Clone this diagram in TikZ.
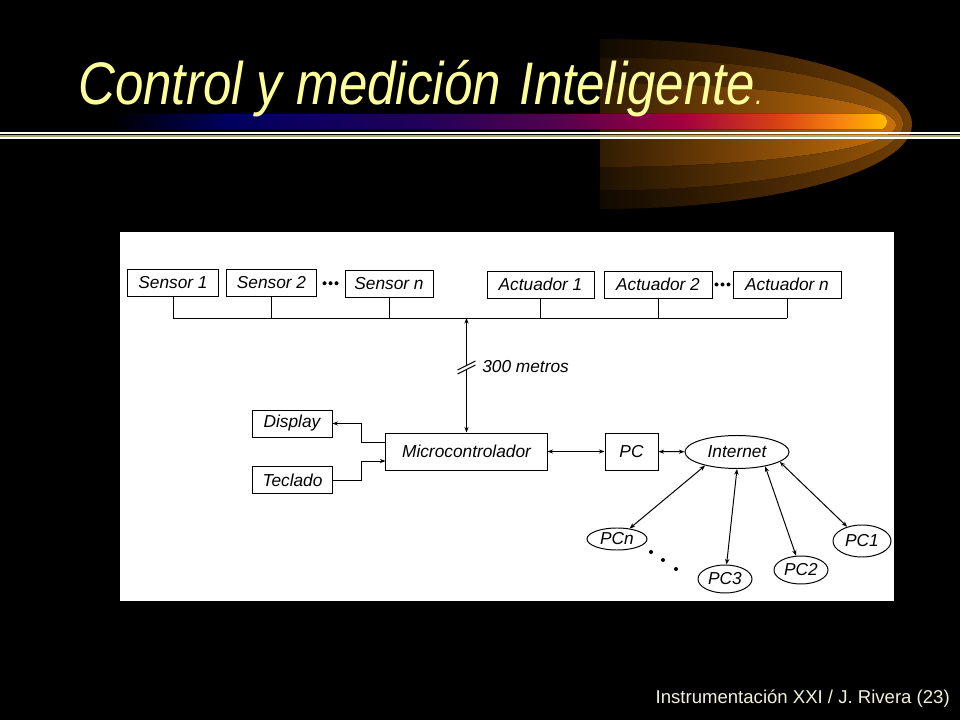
\documentclass[tikz,border=0pt]{standalone}
\usepackage{fontspec}
\usepackage{xcolor}
\usepackage{tikz}
\usetikzlibrary{arrows.meta,positioning,shapes.geometric,calc}
\newfontfamily\diafont{Liberation Sans}
\newfontfamily\titlefont{Liberation Sans}[FakeStretch=0.85]
\definecolor{titleyellow}{HTML}{FFFF99}
\definecolor{footcream}{HTML}{F2F2DC}
\definecolor{linekhaki}{HTML}{A8A878}
\definecolor{glowout}{HTML}{703E06}
\definecolor{glowmid}{HTML}{985608}
\definecolor{glowin}{HTML}{C8700C}
\definecolor{barnavy}{HTML}{00005E}
\definecolor{barindigo}{HTML}{22005C}
\definecolor{barpurple}{HTML}{55004E}
\definecolor{barmagenta}{HTML}{A00040}
\definecolor{barred}{HTML}{D84412}
\definecolor{barorange}{HTML}{F88010}
\definecolor{baryellow}{HTML}{FFBA00}
\pgfdeclarehorizontalshading{titlebar}{100bp}{color(0bp)=(black); color(25bp)=(black); color(28bp)=(black); color(35bp)=(barnavy); color(47bp)=(barindigo); color(55bp)=(barpurple); color(62.5bp)=(barmagenta); color(68.5bp)=(barred); color(72bp)=(barorange); color(75bp)=(baryellow); color(100bp)=(baryellow)}

\begin{document}
\begin{tikzpicture}[
  x=0.025cm, y=-0.025cm,
  block/.style={rectangle, draw, line width=0.7pt, fill=white, minimum height=0.675cm, inner sep=1pt, font=\diafont\itshape\fontsize{12.3}{14}\selectfont},
  oval/.style={ellipse, draw, line width=0.7pt, fill=white, inner sep=0pt, font=\diafont\itshape\fontsize{12.3}{14}\selectfont},
  lbl/.style={inner sep=0pt, font=\diafont\itshape\fontsize{12.3}{14}\selectfont},
  wire/.style={line width=0.7pt},
  arrow/.style={wire, -{Stealth[length=4pt,width=3pt]}},
  biarrow/.style={wire, {Stealth[length=4pt,width=3pt]}-{Stealth[length=4pt,width=3pt]}}
]
\fill[black] (0,0) rectangle (960,720);
\useasboundingbox (0,0) rectangle (960,720);

% glow and title bar
\fill[left color=glowout!15!black, right color=glowout] (600,39) arc[start angle=-90, end angle=90, x radius=312, y radius=85] -- cycle;
\fill[left color=glowmid!20!black, right color=glowmid] (600,57.5) arc[start angle=-90, end angle=90, x radius=303, y radius=66.5] -- cycle;
\fill[left color=glowin!25!black, right color=glowin] (600,83) arc[start angle=-90, end angle=90, x radius=296, y radius=42] -- cycle;
\fill[shading=titlebar, rounded corners=0.18cm] (60,114) rectangle (887,129.5);
\draw[white, line width=0.05cm] (0,133.2) -- (960,133.2);
\draw[linekhaki, line width=0.04cm] (0,135.8) -- (960,135.8);
\draw[white, line width=0.05cm] (0,138.3) -- (960,138.3);

\node[anchor=base west, text=titleyellow, inner sep=0pt, font=\titlefont\itshape\fontsize{42.7}{44}\selectfont] (title) at (78,105) {Control y medición\hspace{0.12cm} Inteligente{\fontsize{22}{22}\selectfont.}};
\node[anchor=base east, text=footcream, inner sep=0pt, font=\diafont\fontsize{13.2}{15}\selectfont] (foot) at (950,703) {Instrumentación XXI / J. Rivera (23)};

\fill[white] (120,232) rectangle (894,601);

\node[block, minimum width=2.25cm] (sens1) at (173,282.5) {Sensor 1};
\node[block, minimum width=2.225cm] (sens2) at (271.5,282.5) {Sensor 2};
\node[block, minimum width=2.2cm] (sensn) at (389,284) {Sensor n};
\node[block, minimum width=2.675cm] (act1) at (540.5,284.5) {Actuador 1};
\node[block, minimum width=2.7cm] (act2) at (658,284.5) {Actuador 2};
\node[block, minimum width=2.7cm] (actn) at (787,284.5) {Actuador n};
\node[block, minimum width=2cm] (disp) at (292,423.5) {Display};
\node[block, minimum width=2cm] (tec) at (292.5,480) {Teclado};
\node[block, minimum width=4.025cm, minimum height=0.925cm] (mcu) at (466.5,451.5) {Microcontrolador};
\node[block, minimum width=1.325cm, minimum height=0.925cm] (pc) at (631.5,451.5) {PC};
\node[oval, minimum width=2.6cm, minimum height=0.825cm] (inet) at (737,452) {Internet};
\node[oval, minimum width=1.5cm, minimum height=0.55cm] (pcn) at (617,539) {PCn};
\node[oval, minimum width=1.35cm, minimum height=0.7cm] (pc3) at (725,579) {PC3};
\node[oval, minimum width=1.35cm, minimum height=0.7cm] (pc2) at (801,570) {PC2};
\node[oval, minimum width=1.45cm, minimum height=0.8cm] (pc1) at (862,541) {PC1};

\foreach \k in {-1,0,1} {
  \fill ($(sens2.east)!0.5!(sensn.west)+(\k*6,0)$) circle[radius=0.05cm];
  \fill ($(act2.east)!0.5!(actn.west)+(\k*6,0)$) circle[radius=0.05cm];
}

\coordinate (bus) at (0,318);
\draw[wire] (sens1.south |- bus) -- (actn.south |- bus);
\foreach \n in {sens1,sens2,sensn,act1,act2,actn}
  \draw[wire] (\n.south) -- (\n.south |- bus);

\draw[biarrow] (mcu.north |- bus) -- (mcu.north);
\coordinate (brk) at (mcu.north |- 0,368);
\fill[white] ($(brk)+(-9,2)$) -- ($(brk)+(9,-7)$) -- ($(brk)+(9,-3)$) -- ($(brk)+(-9,6)$) -- cycle;
\draw[wire] ($(brk)+(-9,2)$) -- ($(brk)+(9,-7)$);
\draw[wire] ($(brk)+(-9,6)$) -- ($(brk)+(9,-3)$);
\node[lbl, anchor=west] (dist) at (482,367) {300 metros};

\coordinate (jn) at (361,0);
\draw[arrow] (mcu.west |- 0,442) -| (jn |- disp.east) -- (disp.east);
\draw[arrow] (tec.east) -| (jn |- 0,461) -- (mcu.west |- 0,461);

\draw[biarrow] (mcu) -- (pc);
\draw[biarrow] (pc) -- (inet);
\draw[biarrow] (inet.-157) -- (pcn);
\draw[biarrow] (inet.-90) -- (pc3);
\draw[biarrow] (inet.-27) -- (pc2);
\draw[biarrow] (inet.-13) -- (pc1);

\foreach \p in {(651,552),(663,560),(676,569)}
  \fill \p circle[radius=0.05cm];
\end{tikzpicture}
\end{document}
